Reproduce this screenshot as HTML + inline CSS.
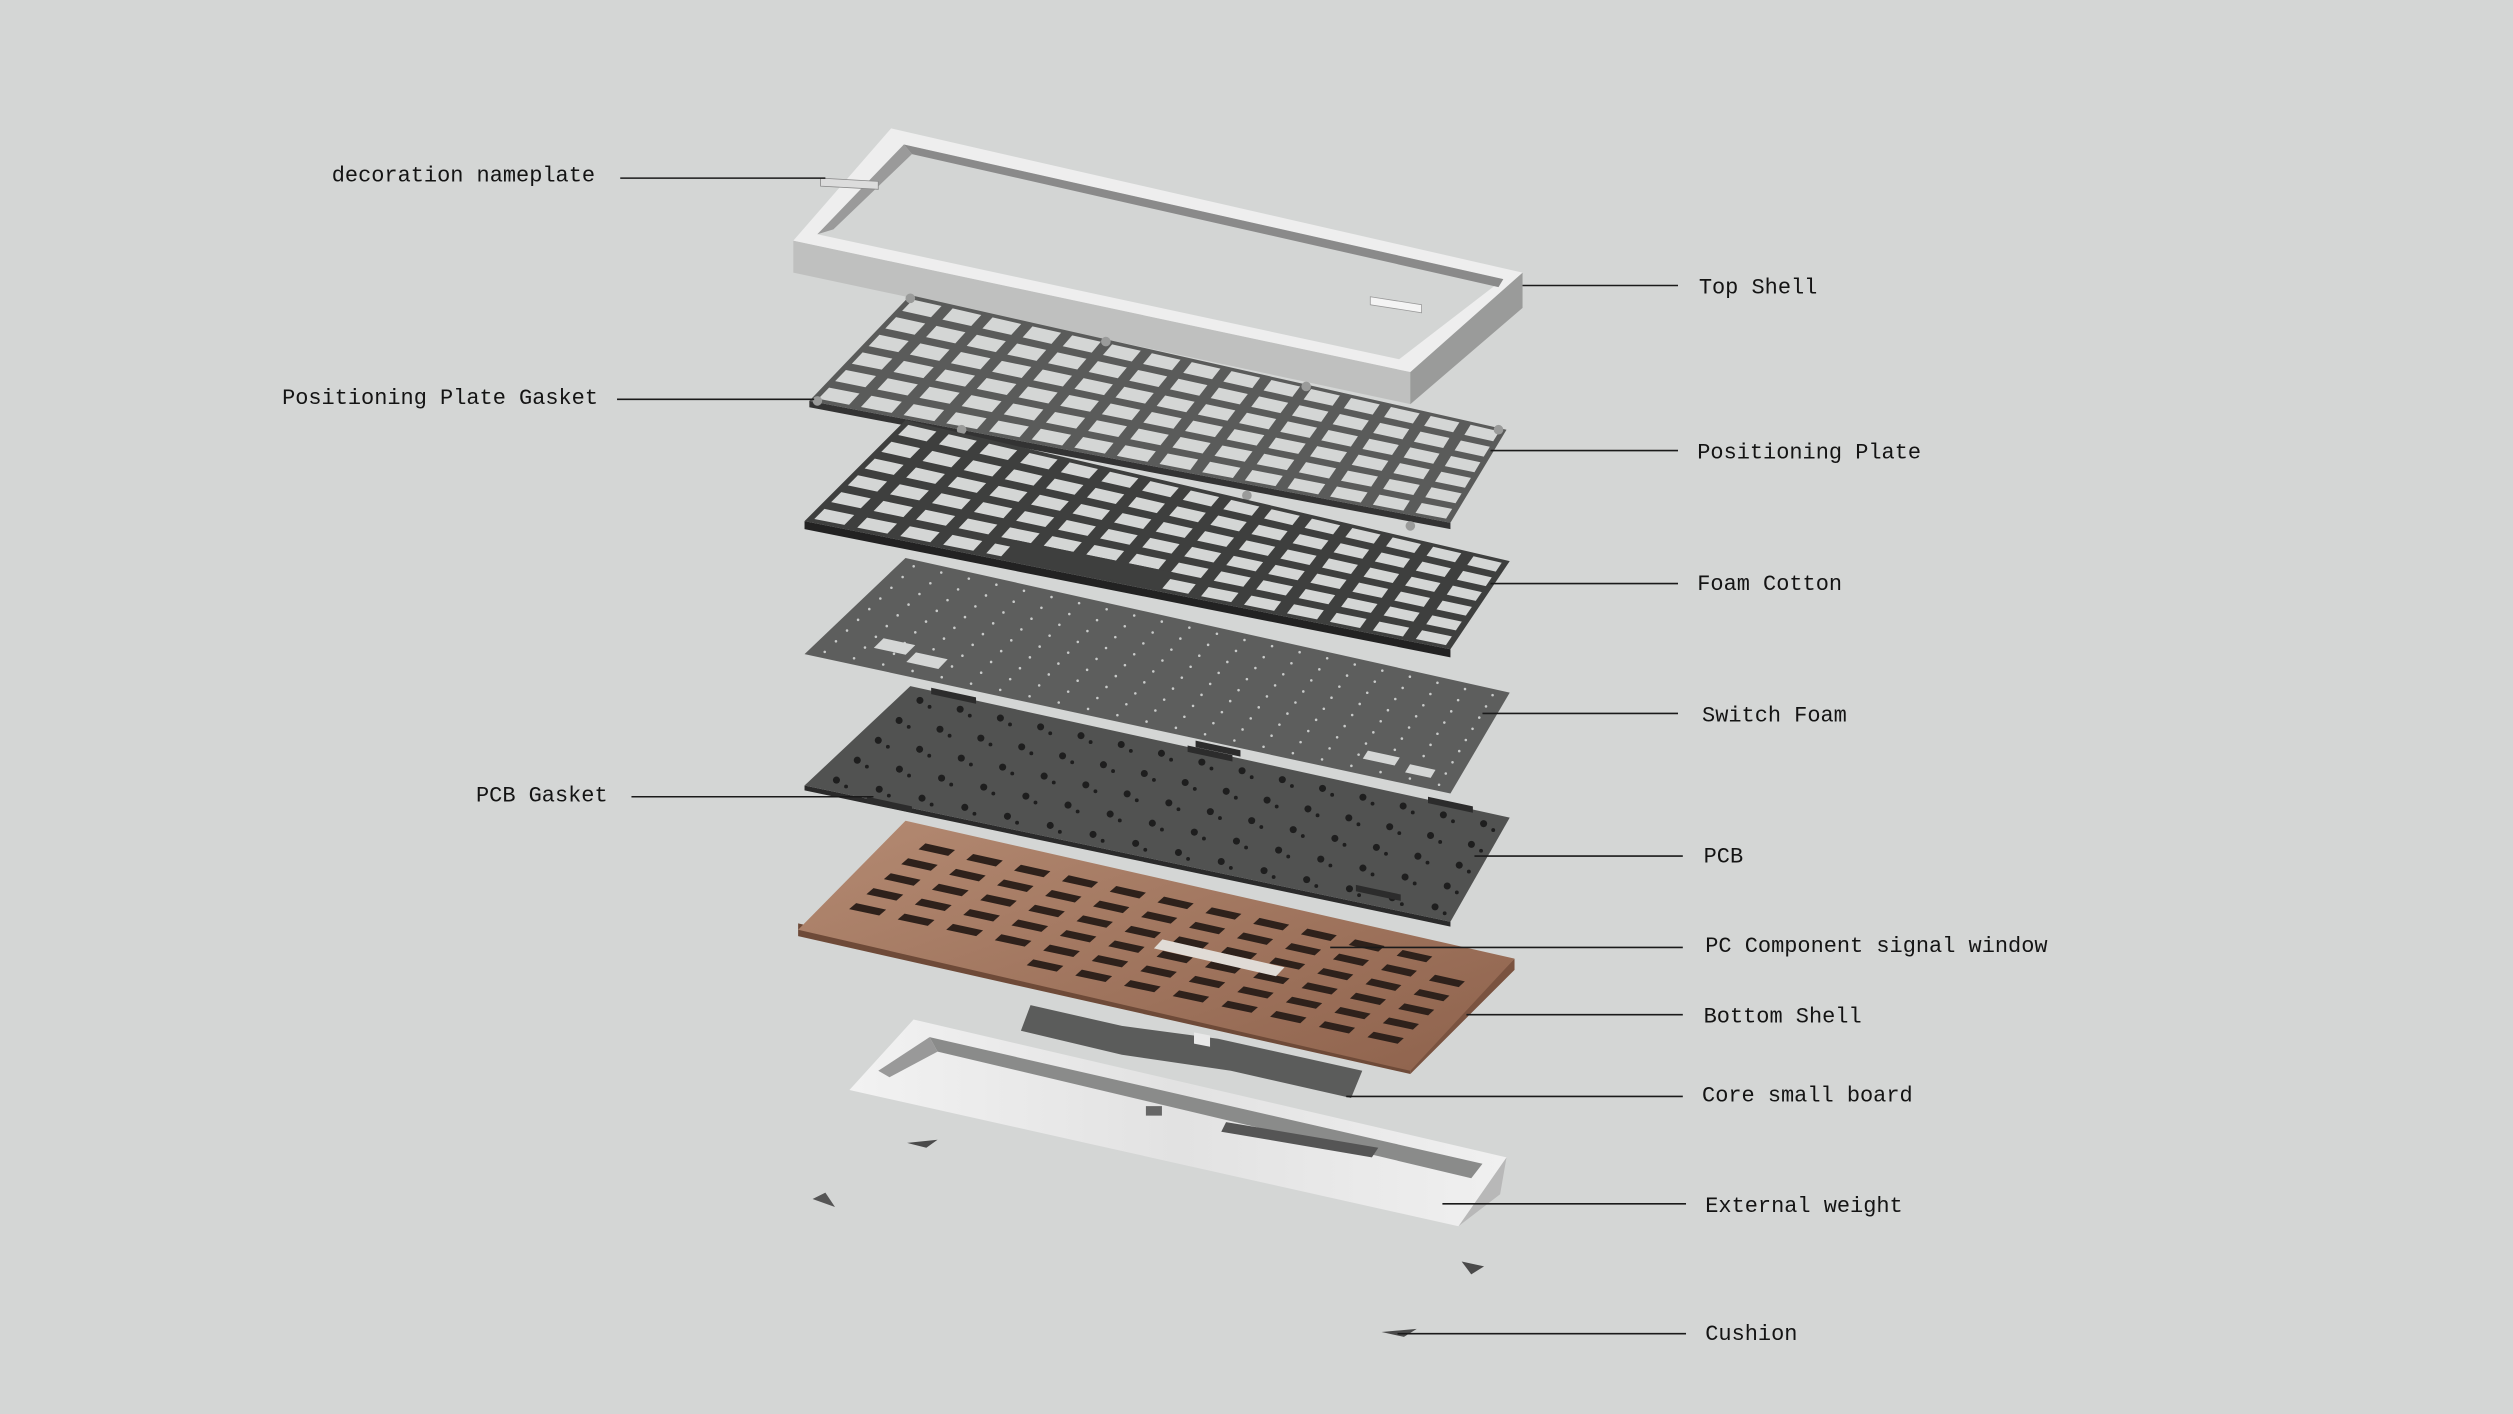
<!DOCTYPE html>
<html><head><meta charset="utf-8"><style>
html,body{margin:0;padding:0;background:#d4d6d5;width:2513px;height:1414px;overflow:hidden}
svg{display:block}
text{font-family:"Liberation Mono","IPAGothic",monospace;font-size:13.7px;fill:#141414}
</style></head><body>
<svg id="s" width="2513" height="1414" viewBox="0 0 1568 882" xmlns="http://www.w3.org/2000/svg">
<defs>
<linearGradient id="cu" x1="0" y1="0" x2="1" y2="1"><stop offset="0" stop-color="#b48a72"/><stop offset="1" stop-color="#8e624c"/></linearGradient>
<linearGradient id="wt" x1="0" y1="0" x2="1" y2="0"><stop offset="0" stop-color="#f2f2f2"/><stop offset="0.5" stop-color="#e2e2e2"/><stop offset="1" stop-color="#f0f0f0"/></linearGradient>
</defs>
<g id="art"></g>
<g stroke="#1a1a1a" stroke-width="1">
<line x1="387" y1="111" x2="515" y2="111"/>
<line x1="950" y1="178" x2="1047" y2="178"/>
<line x1="385" y1="249" x2="508" y2="249"/>
<line x1="930" y1="281" x2="1047" y2="281"/>
<line x1="930" y1="364" x2="1047" y2="364"/>
<line x1="925" y1="445" x2="1047" y2="445"/>
<line x1="394" y1="497" x2="545" y2="497"/>
<line x1="920" y1="534" x2="1050" y2="534"/>
<line x1="830" y1="591" x2="1050" y2="591"/>
<line x1="915" y1="633" x2="1050" y2="633"/>
<line x1="840" y1="684" x2="1050" y2="684"/>
<line x1="900" y1="751" x2="1052" y2="751"/>
<line x1="872" y1="832" x2="1052" y2="832"/>
</g>
<text x="207" y="113">decoration nameplate</text>
<text x="1060" y="183">Top Shell</text>
<text x="176" y="252">Positioning Plate Gasket</text>
<text x="1059" y="286">Positioning Plate</text>
<text x="1059" y="368">Foam Cotton</text>
<text x="1062" y="450">Switch Foam</text>
<text x="297" y="500">PCB Gasket</text>
<text x="1063" y="538">PCB</text>
<text x="1064" y="594">PC Component signal window</text>
<text x="1063" y="638">Bottom Shell</text>
<text x="1062" y="687">Core small board</text>
<text x="1064" y="756">External weight</text>
<text x="1064" y="836">Cushion</text>
</svg>
<script>
var g=document.getElementById('art'),h='';
function P(pts,f,extra){h+='<polygon points="'+pts.map(function(p){return p[0].toFixed(1)+','+p[1].toFixed(1)}).join(' ')+'" fill="'+f+'" '+(extra||'')+'/>';}
function L(q,u,v){var a=q[0],b=q[1],c=q[2],d=q[3];
 var x1=a[0]+(b[0]-a[0])*u,y1=a[1]+(b[1]-a[1])*u,x2=d[0]+(c[0]-d[0])*u,y2=d[1]+(c[1]-d[1])*u;
 return [x1+(x2-x1)*v,y1+(y2-y1)*v];}
function grid(q,cols,rows,fu,fv,col,skip){for(var r=0;r<rows;r++)for(var c=0;c<cols;c++){if(skip&&skip(c,r))continue;
 var u0=(c+(1-fu)/2)/cols,u1=(c+(1+fu)/2)/cols,v0=(r+(1-fv)/2)/rows,v1=(r+(1+fv)/2)/rows;
 P([L(q,u0,v0),L(q,u1,v0),L(q,u1,v1),L(q,u0,v1)],col);}}
function dots(q,cols,rows,rad,col){for(var r=0;r<rows;r++)for(var c=0;c<cols;c++){var p=L(q,(c+.5)/cols,(r+.5)/rows);h+='<circle cx="'+p[0].toFixed(1)+'" cy="'+p[1].toFixed(1)+'" r="'+rad+'" fill="'+col+'"/>';}}
// Top shell
P([[495,150],[495,170],[880,252],[950,192],[950,170],[880,232]],'#bfc0bf');
P([[880,232],[880,252],[950,192],[950,170]],'#9a9b9a');
P([[556,80],[950,170],[880,232],[495,150]],'#eeeeee');
P([[564,90],[938,174],[873,224],[510,146]],'#d3d5d4');
P([[564,90],[938,174],[935,179],[569,96]],'#8a8a8a');
P([[564,90],[569,96],[520,143],[510,146]],'#9a9a9a');
P([[512,111],[548,113],[548,118],[512,116]],'#dcdcdc','stroke="#888" stroke-width=".5"');
P([[855,185],[887,190],[887,195],[855,190]],'#f4f4f4','stroke="#999" stroke-width=".5"');
// Positioning plate
var pp=[[568,184],[940,268],[905,326],[505,250]];
P([[505,250],[905,326],[905,330],[505,254]],'#333');P(pp,'#5a5b5a');
grid(pp,15,6,.72,.64,'#d4d6d5');
[[568,186],[690,213],[815,241],[935,268],[510,250],[600,268],[778,309],[880,328]].forEach(function(p){h+='<circle cx="'+p[0]+'" cy="'+p[1]+'" r="3" fill="#9a9b9a"/>';});
// Foam cotton
var fc=[[565,262],[942,350],[905,405],[502,325]];
P([[502,325],[905,405],[905,410],[502,330]],'#222');P(fc,'#3e3f3e');
grid(fc,15,6,.7,.6,'#d4d6d5');
P([L(fc,.3,.8),L(fc,.55,.8),L(fc,.55,.98),L(fc,.3,.98)],'#3e3f3e');
// Switch foam
var sf=[[565,348],[942,432],[905,495],[502,408]];
P(sf,'#5d5e5d');dots(sf,22,9,.8,'#c9cbca');
P([L(sf,.08,.72),L(sf,.13,.72),L(sf,.13,.82),L(sf,.08,.82)],'#d4d6d5');
P([L(sf,.14,.78),L(sf,.19,.78),L(sf,.19,.88),L(sf,.14,.88)],'#d4d6d5');
P([L(sf,.85,.78),L(sf,.9,.78),L(sf,.9,.86),L(sf,.85,.86)],'#d4d6d5');
P([L(sf,.92,.82),L(sf,.96,.82),L(sf,.96,.9),L(sf,.92,.9)],'#d4d6d5');
// PCB
var pcb=[[568,428],[942,510],[905,575],[502,490]];
P([[502,490],[905,575],[905,578],[502,493]],'#2a2a2a');P(pcb,'#515251');
dots(pcb,15,5,2.2,'#1e1e1e');dots([[574,432],[948,514],[911,579],[508,494]],15,5,1.2,'#1e1e1e');
[[595,432],[760,465],[905,500],[555,500],[755,468],[860,555]].forEach(function(p){P([[p[0]-14,p[1]-3],[p[0]+14,p[1]+3],[p[0]+14,p[1]+7],[p[0]-14,p[1]+1]],'#2c2c2c');});
// Bottom shell copper
var bs=[[565,512],[945,598],[880,668],[498,580]];
P([[498,576],[880,664],[880,670],[498,584]],'#6e4a38');P([[880,664],[945,598],[945,605],[880,670]],'#7a5340');
P(bs,'url(#cu)');
grid([[575,522],[932,602],[875,655],[510,578]],12,6,.62,.4,'#2e211b',function(c,r){return (r==5&&c<4)||(r==0&&c>10);});
P([L(bs,.5,.45),L(bs,.7,.45),L(bs,.7,.53),L(bs,.5,.53)],'#e0dbd6');
// Core small board
P([[643,627],[700,640],[760,648],[850,668],[843,685],[768,668],[700,658],[637,643]],'#5b5c5b');
P([[745,644],[755,646],[755,653],[745,651]],'#e8e8e8');
// External weight tray
var ew=[[570,636],[940,722],[910,765],[530,680]];
P([[910,765],[940,722],[936,745]],'#b8b8b8');
P(ew,'url(#wt)');
P([[580,647],[925,726],[918,735],[585,656]],'#8a8b8a');
P([[580,647],[585,656],[555,672],[548,668]],'#999');
P([[765,700],[860,716],[856,722],[762,706]],'#555');
P([[715,690],[725,690],[725,696],[715,696]],'#666');
// Cushions
P([[566,713],[585,711],[578,716]],'#4a4a4a');
P([[507,748],[515,744],[521,753]],'#555');
P([[912,787],[926,790],[918,795]],'#4a4a4a');
P([[862,831],[884,829],[876,834]],'#4a4a4a');
g.innerHTML=h;
</script>
</body></html>
